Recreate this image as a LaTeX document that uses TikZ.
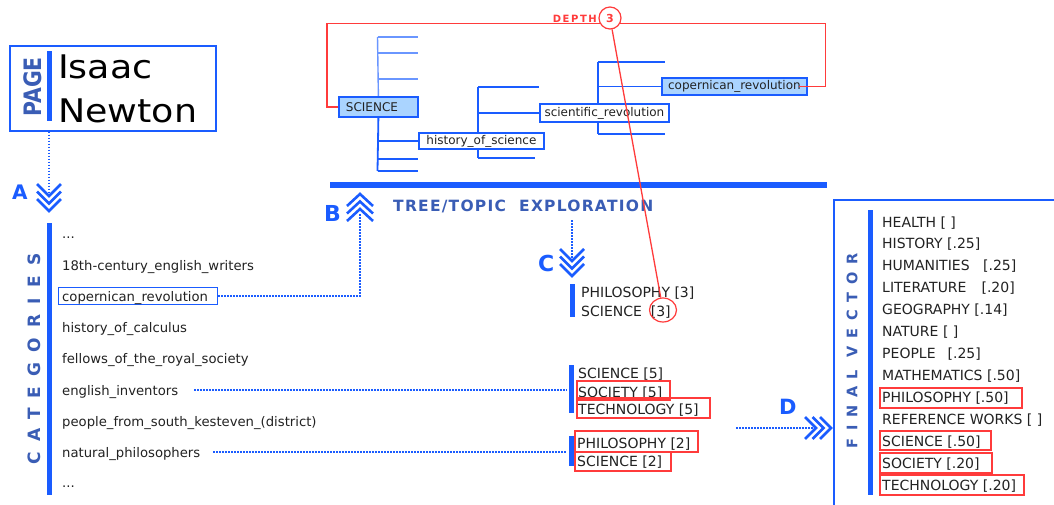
\documentclass[tikz,border=0pt]{standalone}
\usepackage{fontspec}
\setmainfont{DejaVu Sans}
\newfontfamily\bigfont{DejaVu Sans}[FakeStretch=1.12]
\newfontfamily\pagefont{DejaVu Sans}[FakeStretch=0.85]
\newfontfamily\catfont{DejaVu Sans}[LetterSpace=60]
\newfontfamily\finfont{DejaVu Sans}[LetterSpace=53]
\newfontfamily\ttlfont{DejaVu Sans}[LetterSpace=8]
\newfontfamily\depthfont{DejaVu Sans}[LetterSpace=16]
\usetikzlibrary{calc,shapes.geometric}
\definecolor{lblue}{HTML}{1A5CFF}
\definecolor{dblue}{HTML}{3A5DB5}
\definecolor{lred}{HTML}{FF3B3B}
\definecolor{fillblue}{HTML}{AAD4FF}
\definecolor{treelight}{HTML}{6A96FF}
\definecolor{txt}{HTML}{222222}
\pgfdeclarelayer{bg}
\pgfsetlayers{bg,main}
\tikzset{
  bar/.style={draw=lblue, line width=5pt},
  dots/.style={draw=lblue, line width=2pt, dash pattern=on 1.5pt off 1.5pt},
  chevline/.style={draw=lblue, line width=2.6pt, line join=miter, line cap=butt},
  redline/.style={draw=lred, line width=1.3pt},
  redbox/.style={draw=lred, line width=1.5pt, inner sep=0, anchor=north west},
  cattext/.style={anchor=base west, inner sep=0, font=\fontsize{13.2}{15}\selectfont, text=txt},
  lbl/.style={anchor=base west, inner sep=0, font=\fontsize{14}{16}\selectfont, text=txt},
  treebox/.style={draw=lblue, line width=1.8pt, fill=white, inner sep=0, font=\fontsize{12}{14}\selectfont, text=txt},
  treedark/.style={draw=lblue, line width=1.8pt},
  treelite/.style={draw=treelight, line width=1.4pt},
  letter/.style={anchor=base west, inner sep=0, text=lblue, font=\bfseries\fontsize{22}{24}\selectfont},
  rotlabel/.style={rotate=90, inner sep=0, text=dblue},
  pics/chevdown/.style={code={\foreach \o in {0,7.5,15}{\draw[chevline] (-12,-12-\o) -- (0,-\o) -- (12,-12-\o);}}},
  pics/chevup/.style={code={\foreach \o in {0,7.5,15}{\draw[chevline] (-13,12+\o) -- (0,\o) -- (13,12+\o);}}},
  pics/chevright/.style={code={\foreach \o in {0,7.5,15}{\draw[chevline] (-11-\o,-11) -- (-\o,0) -- (-11-\o,11);}}},
}
\begin{document}
\begin{tikzpicture}[x=1pt,y=-1pt]
\useasboundingbox (0,0) rectangle (1054,504);

% ---------- PAGE ----------
\node[draw=lblue, line width=1.6pt, minimum width=206pt, minimum height=85pt, inner sep=0, anchor=north west] (page) at (9,45) {};
\node[rotlabel, font=\pagefont\bfseries\fontsize{24}{26}\selectfont] (pagelbl) at (33,87) {PAGE};
\draw[bar] (49,51) -- (49,121);
\node[anchor=base west, inner sep=0, text=black, font=\bigfont\fontsize{32.5}{34}\selectfont] (isaac) at (58,78) {Isaac};
\node[anchor=base west, inner sep=0, text=black, font=\bigfont\fontsize{32.5}{34}\selectfont] (newton) at (58,122) {Newton};

% ---------- A ----------
\coordinate (achev) at (49,211);
\pic at (achev) {chevdown};
\node[letter, font=\bfseries\fontsize{20}{22}\selectfont] (la) at (12,199) {A};
\draw[dots] (achev |- page.south) -- ($(achev)+(0,-17)$);

% ---------- CATEGORIES ----------
\draw[bar] (49,223) -- (49,495);
\node[rotlabel, font=\catfont\bfseries\fontsize{17}{19}\selectfont] (catlbl) at (34,359) {CATEGORIES};
\node[draw=lblue, line width=1.2pt, minimum width=159pt, minimum height=17pt, inner sep=0, anchor=north west] (copbox) at (58,287) {};
\node[cattext] (c0) at (62,238) {...};
\node[cattext] (c1) at (62,270) {18th-century\_english\_writers};
\node[cattext] (c2) at (62,301) {copernican\_revolution};
\node[cattext] (c3) at (62,332) {history\_of\_calculus};
\node[cattext] (c4) at (62,363) {fellows\_of\_the\_royal\_society};
\node[cattext] (c5) at (62,395) {english\_inventors};
\node[cattext] (c6) at (62,426) {people\_from\_south\_kesteven\_(district)};
\node[cattext] (c7) at (62,457) {natural\_philosophers};
\node[cattext] (c8) at (62,487) {...};

% ---------- B ----------
\coordinate (bchev) at (360,194);
\pic at (bchev) {chevup};
\node[letter] (lb) at (324,221) {B};
\draw[dots] (copbox.east) -| ($(bchev)+(0,20)$);

% ---------- TREE ----------
\draw[draw=lblue, line width=6pt] (330,185) -- (827,185);
\node[anchor=base west, inner sep=0, text=dblue, font=\ttlfont\bfseries\fontsize{15.5}{17}\selectfont] (ttl) at (393,211) {TREE/TOPIC\ \ EXPLORATION};

\node[treebox, fill=fillblue, text width=65pt, align=left, inner xsep=7pt, minimum height=20pt, anchor=north west] (sci) at (338,96) {SCIENCE};
\node[treebox, minimum width=125pt, minimum height=16pt, anchor=north west] (hos) at (418,132) {history\_of\_science};
\node[treebox, minimum width=129pt, minimum height=18pt, anchor=north west] (scr) at (539,103) {scientific\_revolution};
\node[treebox, fill=fillblue, minimum width=145pt, minimum height=17pt, anchor=north west] (cop) at (661,77) {copernican\_revolution};

\coordinate (strunk) at (377.5,37);
\coordinate (sbot) at (377.5,171);
\coordinate (htop) at (478,87);
\coordinate (hbot) at (478,158);
\coordinate (rtop) at (598,62);
\coordinate (rbot) at (598,134);
\begin{pgfonlayer}{bg}
  \fill[white] (0,0) rectangle (1054,504);
  \draw[treelite] (strunk) -- (sci.north);
  \draw[treelite] (strunk) -- ++(40,0);
  \draw[treelite] ($(strunk)+(0,16)$) -- ++(40,0);
  \draw[treelite] ($(strunk)+(0,42)$) -- ++(40,0);
  \draw[treedark] (sci.south) -- (sbot);
  \draw[treedark] (strunk |- hos.west) -- (hos.west);
  \draw[treedark] ($(sbot)+(0,-12)$) -- ++(40,0);
  \draw[treedark] (sbot) -- ++(40,0);
  \draw[treedark] (htop) -- (hbot);
  \draw[treedark] (htop) -- ++(61,0);
  \draw[treedark] (htop |- scr.west) -- (scr.west);
  \draw[treedark] (hbot) -- ++(57,0);
  \draw[treedark] (rtop) -- (rbot);
  \draw[treedark] (rtop) -- ++(67,0);
  \draw[treedark] (rtop |- cop.west) -- (cop.west);
  \draw[treedark] (rbot) -- ++(67,0);
\end{pgfonlayer}

% ---------- C ----------
\coordinate (cstart) at (572,220);
\coordinate (cchev) at (572,276);
\pic at (cchev) {chevdown};
\draw[dots] (cstart) -- ($(cchev)+(0,-15)$);
\node[letter] (lc) at (538,271) {C};
\draw[bar] (572,284) -- (572,317);
\node[lbl] (p3) at (581,297) {PHILOSOPHY [3]};
\node[lbl] (s3) at (581,316) {SCIENCE\ \ [3]};
\node[ellipse, draw=lred, line width=1.2pt, minimum width=27pt, minimum height=24pt, inner sep=0] (c3ring) at (663,310) {};

% ---------- groups from categories ----------
\coordinate (e5) at (194,390);
\coordinate (g5in) at (567,390);
\draw[bar] (571,365) -- (571,413);
\node[lbl] (s5) at (578,378) {SCIENCE [5]};
\node[lbl] (so5) at (578,397) {SOCIETY [5]};
\node[lbl] (t5) at (578,414) {TECHNOLOGY [5]};
\node[redbox, minimum width=93pt, minimum height=19pt] (rso5) at (576,380) {};
\node[redbox, minimum width=133pt, minimum height=20pt] (rt5) at (576,397) {};
\draw[dots] (e5) -- (g5in);

\coordinate (e7) at (213,452);
\coordinate (g2in) at (567,452);
\draw[bar] (571,436) -- (571,466);
\node[lbl] (p2) at (577,448) {PHILOSOPHY [2]};
\node[lbl] (s2) at (577,466) {SCIENCE [2]};
\node[redbox, minimum width=123pt, minimum height=21pt] (rp2) at (574,430) {};
\node[redbox, minimum width=96pt, minimum height=19pt] (rs2) at (574,451) {};
\draw[dots] (e7) -- (g2in);

% ---------- D ----------
\coordinate (dchev) at (831,428);
\coordinate (dstart) at (736,428);
\pic at (dchev) {chevright};
\draw[dots] (dstart) -- ($(dchev)+(-15,0)$);
\node[letter, font=\bfseries\fontsize{21}{23}\selectfont] (ld) at (779,414) {D};

% ---------- FINAL VECTOR ----------
\node[draw=lblue, line width=2pt, minimum width=260pt, minimum height=330pt, inner sep=0, anchor=north west] (fvbox) at (833,199) {};
\draw[bar] (870,210) -- (870,495);
\node[rotlabel, font=\finfont\bfseries\fontsize{14.5}{16}\selectfont] (fvlbl) at (852,351) {FINAL VECTOR};
\node[lbl] (f1) at (882,227) {HEALTH [ ]};
\node[lbl] (f2) at (882,248.9) {HISTORY [.25]};
\node[lbl] (f3) at (882,270.8) {HUMANITIES\hspace{13.5pt}[.25]};
\node[lbl] (f4) at (882,292.8) {LITERATURE\hspace{15pt}[.20]};
\node[lbl] (f5) at (882,314.7) {GEOGRAPHY [.14]};
\node[lbl] (f6) at (882,336.6) {NATURE [ ]};
\node[lbl] (f7) at (882,358.5) {PEOPLE\hspace{12pt}[.25]};
\node[lbl] (f8) at (882,380.4) {MATHEMATICS [.50]};
\node[lbl] (f9) at (882,402.4) {PHILOSOPHY [.50]};
\node[lbl] (f10) at (882,424.3) {REFERENCE WORKS [ ]};
\node[lbl] (f11) at (882,446.2) {SCIENCE [.50]};
\node[lbl] (f12) at (882,468.1) {SOCIETY [.20]};
\node[lbl] (f13) at (882,490) {TECHNOLOGY [.20]};
\node[redbox, minimum width=142pt, minimum height=20pt] (rf9) at (879,387) {};
\node[redbox, minimum width=111pt, minimum height=19pt] (rf11) at (879,430) {};
\node[redbox, minimum width=112pt, minimum height=20pt] (rf12) at (879,452) {};
\node[redbox, minimum width=144pt, minimum height=20pt] (rf13) at (879,474) {};

% ---------- DEPTH ----------
\node[circle, draw=lred, line width=1.2pt, minimum size=22pt, inner sep=0, text=lred, font=\bfseries\fontsize{11}{12}\selectfont] (depthc) at (610,18) {3};
\node[anchor=base east, inner sep=0, text=lred, font=\depthfont\bfseries\fontsize{10}{11}\selectfont] (depthlbl) at (597,22) {DEPTH};
\draw[redline] (sci.west) -- ++(-11,0) |- (depthc.207);
\draw[redline] (depthc.333) -| ($(cop.east)+(18,0)$) -- ($(cop.east)+(-9,0)$);
\draw[redline] (depthc) -- (c3ring);
\end{tikzpicture}
\end{document}
